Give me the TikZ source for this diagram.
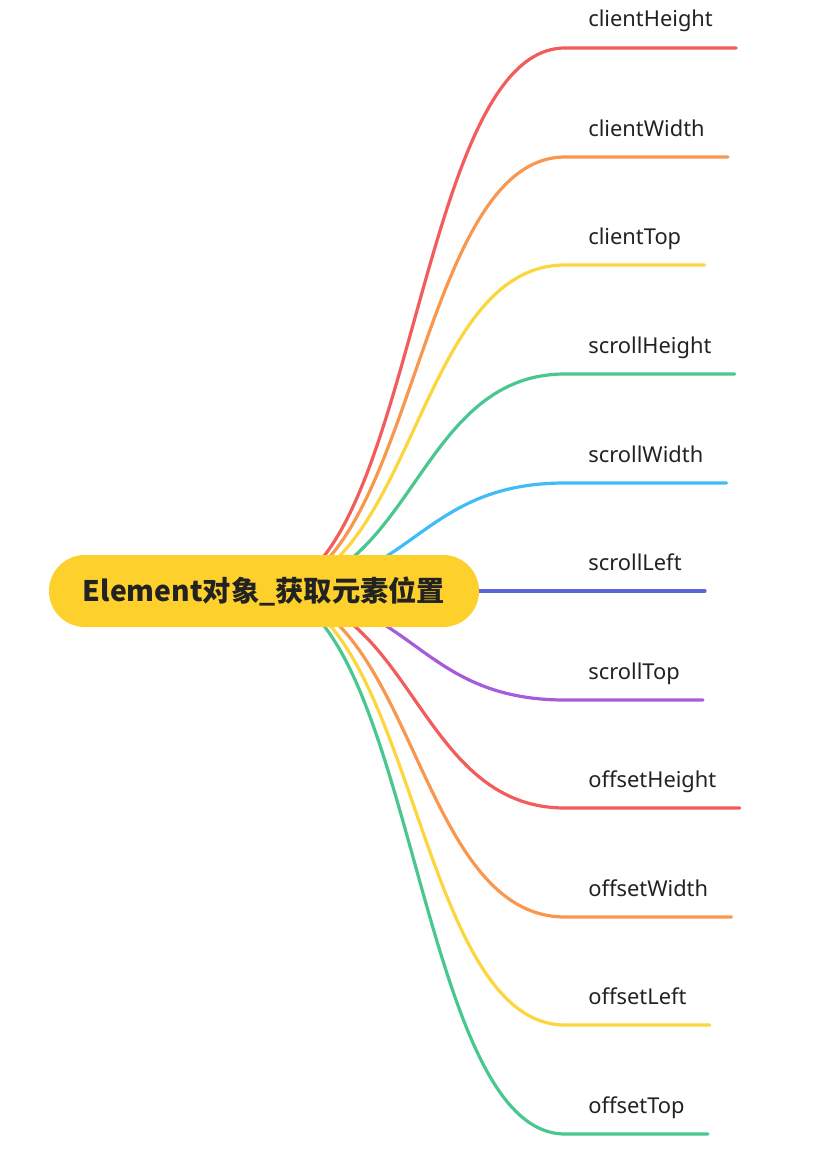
\documentclass[tikz,border=0pt]{standalone}
\usepackage{fontspec}
\setmainfont{Noto Sans}
\newfontfamily\cjkfont{Noto Sans CJK SC}
\usetikzlibrary{calc,backgrounds}
\definecolor{MapInk}{HTML}{222222}
\definecolor{MapRoot}{HTML}{FDD02C}
\definecolor{MapRed}{HTML}{F25C5C}
\definecolor{MapOrange}{HTML}{F9974F}
\definecolor{MapYellow}{HTML}{FCD63D}
\definecolor{MapGreen}{HTML}{48C78E}
\definecolor{MapBlue}{HTML}{40BDF8}
\definecolor{MapIndigo}{HTML}{5A67DB}
\definecolor{MapPurple}{HTML}{A55CDB}

\begin{document}
\begin{tikzpicture}[x=0.75pt,y=-0.75pt]
  \tikzset{
    root/.style={fill=MapRoot,rounded corners=26.9pt,minimum width=322.5pt,minimum height=54pt,
      inner sep=0pt,text=MapInk,font=\cjkfont\bfseries\fontsize{21.2}{25}\selectfont},
    leaf/.style={anchor=south west,inner xsep=17.5pt,inner ysep=15.75pt,outer sep=0pt,
      text depth=0pt,text=MapInk,font=\fontsize{16.4}{19}\selectfont},
    branch/.style={line width=2.4pt,line cap=round}
  }
  \useasboundingbox (0,0) rectangle (813,1149);
  \node[root] (root) at (264,591) {Element对象\_获取元素位置};
  \node[leaf] (clientH) at (565,48) {clientHeight};
  \node[leaf] (clientW) at (565,157) {clientWidth};
  \node[leaf] (clientT) at (565,265) {clientTop};
  \node[leaf] (scrollH) at (565,374) {scrollHeight};
  \node[leaf] (scrollW) at (565,483) {scrollWidth};
  \node[leaf] (scrollL) at (565,591) {scrollLeft};
  \node[leaf] (scrollT) at (565,700) {scrollTop};
  \node[leaf] (offsetH) at (565,808) {offsetHeight};
  \node[leaf] (offsetW) at (565,917) {offsetWidth};
  \node[leaf] (offsetL) at (565,1025) {offsetLeft};
  \node[leaf] (offsetT) at (565,1134) {offsetTop};
  \begin{scope}[on background layer]
    \draw[branch,MapRed] (root.center) .. controls ($(root.center)+(150,0)$) and ($(clientH.south west)+(-150,0)$) .. (clientH.south west) -- (clientH.south east);
    \draw[branch,MapOrange] (root.center) .. controls ($(root.center)+(150,0)$) and ($(clientW.south west)+(-150,0)$) .. (clientW.south west) -- (clientW.south east);
    \draw[branch,MapYellow] (root.center) .. controls ($(root.center)+(150,0)$) and ($(clientT.south west)+(-150,0)$) .. (clientT.south west) -- (clientT.south east);
    \draw[branch,MapGreen] (root.center) .. controls ($(root.center)+(150,0)$) and ($(scrollH.south west)+(-150,0)$) .. (scrollH.south west) -- (scrollH.south east);
    \draw[branch,MapBlue] (root.center) .. controls ($(root.center)+(150,0)$) and ($(scrollW.south west)+(-150,0)$) .. (scrollW.south west) -- (scrollW.south east);
    \draw[branch,MapIndigo] (root.center) -- (scrollL.south west) -- (scrollL.south east);
    \draw[branch,MapPurple] (root.center) .. controls ($(root.center)+(150,0)$) and ($(scrollT.south west)+(-150,0)$) .. (scrollT.south west) -- (scrollT.south east);
    \draw[branch,MapRed] (root.center) .. controls ($(root.center)+(150,0)$) and ($(offsetH.south west)+(-150,0)$) .. (offsetH.south west) -- (offsetH.south east);
    \draw[branch,MapOrange] (root.center) .. controls ($(root.center)+(150,0)$) and ($(offsetW.south west)+(-150,0)$) .. (offsetW.south west) -- (offsetW.south east);
    \draw[branch,MapYellow] (root.center) .. controls ($(root.center)+(150,0)$) and ($(offsetL.south west)+(-150,0)$) .. (offsetL.south west) -- (offsetL.south east);
    \draw[branch,MapGreen] (root.center) .. controls ($(root.center)+(150,0)$) and ($(offsetT.south west)+(-150,0)$) .. (offsetT.south west) -- (offsetT.south east);
  \end{scope}
\end{tikzpicture}
\end{document}
